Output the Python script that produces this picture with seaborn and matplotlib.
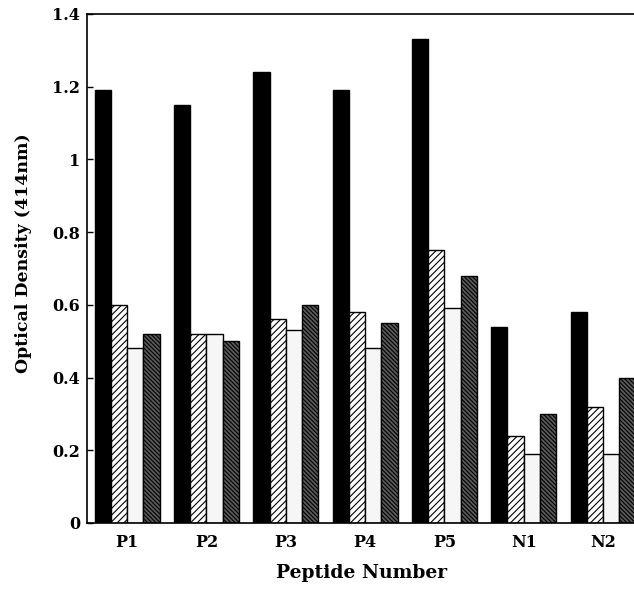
import seaborn as sns
import pandas as pd
import matplotlib
matplotlib.use("Agg")
import matplotlib.pyplot as plt

# Values
peptides = ["P1", "P2", "P3", "P4", "P5", "N1", "N2"]
series_names = ["A", "B", "C", "D"]
series_a = [1.19, 1.15, 1.24, 1.19, 1.33, 0.54, 0.58]   # solid black
series_b = [0.60, 0.52, 0.56, 0.58, 0.75, 0.24, 0.32]   # light hatch
series_c = [0.48, 0.52, 0.53, 0.48, 0.59, 0.19, 0.19]   # stipple
series_d = [0.52, 0.50, 0.60, 0.55, 0.68, 0.30, 0.40]   # dark hatch
y_ticks = [0, 0.2, 0.4, 0.6, 0.8, 1, 1.2, 1.4]
y_tick_labels = ["0", "0.2", "0.4", "0.6", "0.8", "1", "1.2", "1.4"]

sns.set_style("ticks", {"axes.edgecolor": "black", "text.color": "black",
                        "axes.labelcolor": "black", "xtick.color": "black",
                        "ytick.color": "black"})
plt.rcParams["font.family"] = ["DejaVu Serif"]
plt.rcParams["font.weight"] = "bold"
plt.rcParams["hatch.linewidth"] = 0.8

rows = []
for name, vals in zip(series_names, [series_a, series_b, series_c, series_d]):
    for p, v in zip(peptides, vals):
        rows.append({"Peptide": p, "Series": name, "OD": v})
df = pd.DataFrame(rows)

fig = plt.figure(figsize=(6.34, 5.90), dpi=100)
ax = fig.add_axes([0.137, 0.1136, 0.868, 0.8627])

sns.barplot(data=df, x="Peptide", y="OD", hue="Series", order=peptides,
            hue_order=series_names, width=0.82, legend=False, ax=ax,
            edgecolor="black", linewidth=1.0)

styles = [
    {"facecolor": "black", "hatch": None},
    {"facecolor": "white", "hatch": "/////"},
    {"facecolor": "#f6f6f6", "hatch": None},
    {"facecolor": "#5a5a5a", "hatch": "\\\\\\\\\\\\\\\\"},
]
for container, st in zip(ax.containers, styles):
    for bar in container:
        bar.set_facecolor(st["facecolor"])
        bar.set_edgecolor("black")
        if st["hatch"]:
            bar.set_hatch(st["hatch"])

ax.set_xlim(-0.508, 6.43)
ax.set_ylim(0, 1.4)
ax.set_yticks(y_ticks)
ax.set_yticklabels(y_tick_labels)
ax.tick_params(axis="y", direction="in", length=4, width=1, pad=5, labelsize=11.5)
ax.tick_params(axis="x", length=0, pad=8, labelsize=11.5)
for lab in ax.get_xticklabels() + ax.get_yticklabels():
    lab.set_fontweight("bold")

ax.spines["right"].set_visible(False)
for s in ["left", "top", "bottom"]:
    ax.spines[s].set_linewidth(1.2)

ax.set_xlabel("Peptide Number", fontsize=13.5, fontweight="bold")
ax.set_ylabel("Optical Density (414nm)", fontsize=12.5, fontweight="bold")
ax.xaxis.set_label_coords(0.5, -0.08)
ax.yaxis.set_label_coords(-0.10, 0.53)

fig.savefig("out.png", dpi=100)
